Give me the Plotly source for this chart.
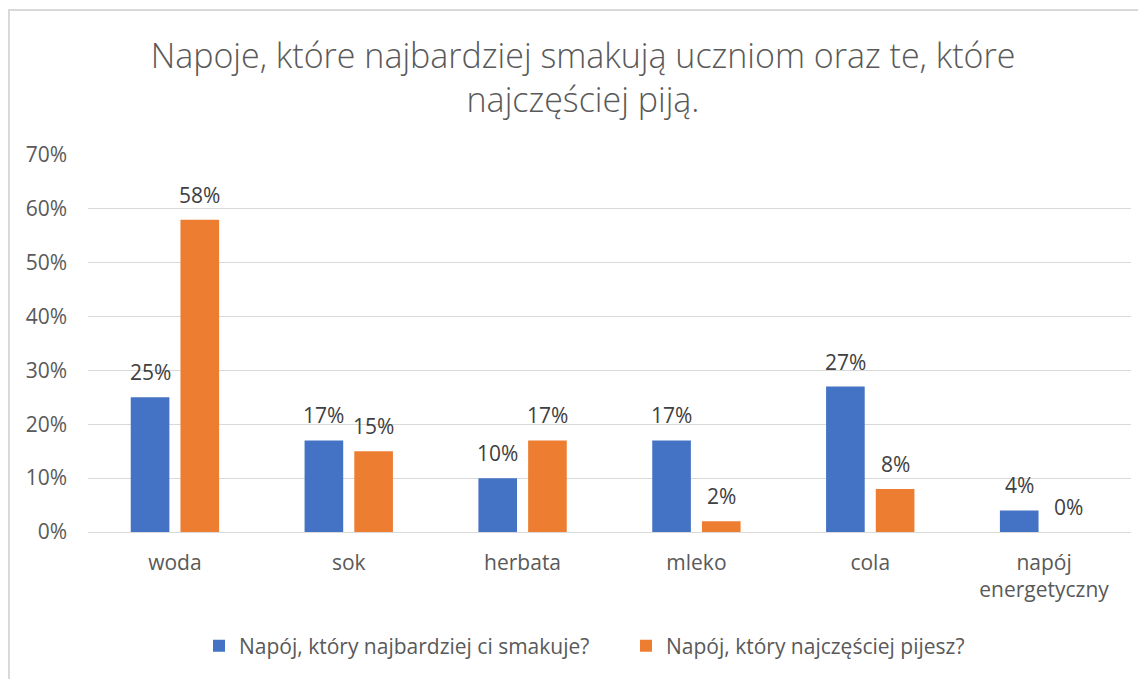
import plotly.graph_objects as go

categories = ["woda", "sok", "herbata", "mleko", "cola", "napój<br>energetyczny"]
series_names = ["Napój, który najbardziej ci smakuje?", "Napój, który najczęściej pijesz?"]
liked = [25, 17, 10, 17, 27, 4]
drunk = [58, 15, 17, 2, 8, 0]
y_ticks = [0, 10, 20, 30, 40, 50, 60, 70]
y_tick_labels = ["0%", "10%", "20%", "30%", "40%", "50%", "60%", "70%"]
title_text = "Napoje, które najbardziej smakują uczniom oraz te, które<br>najczęściej piją."

colors = ["#4472C4", "#ED7D31"]
FONT = "Open Sans"
FS = 21

# page is rendered with an 8px body margin; layout below is in figure pixels
W, H = 1146, 679
L, R, T, B = 80, 23, 147, 155
PW = W - L - R
PH = H - T - B
BARGAP, GROUPGAP = 0.428, 0.223
slot = PW / len(categories) * (1 - BARGAP) / 2

fig = go.Figure()
annotations = []
for i, (name, vals, col) in enumerate(zip(series_names, [liked, drunk], colors)):
    fig.add_trace(go.Bar(
        x=categories, y=vals, name=name,
        marker=dict(color=col, line=dict(width=0)),
        hoverinfo="x+y",
    ))
    for c, v in zip(categories, vals):
        annotations.append(dict(
            x=c, y=v, xref="x", yref="y",
            text=f"{v}%", showarrow=False,
            xanchor="center", yanchor="middle",
            xshift=(i - 0.5) * slot, yshift=25,
            font=dict(family=FONT, size=FS, color="#404040"),
        ))

fig.update_layout(
    width=W, height=H,
    margin=dict(l=L, r=R, t=T, b=B),
    paper_bgcolor="white", plot_bgcolor="white",
    barmode="group", bargap=BARGAP, bargroupgap=GROUPGAP,
    font=dict(family=FONT, color="#595959", size=FS),
    title=dict(
        text=title_text,
        font=dict(family=FONT, size=34, color="#595959", weight=300),
        x=575 / W, xanchor="center", xref="container",
        y=1 - 60 / H, yanchor="middle", yref="container",
    ),
    legend=dict(
        orientation="h", x=(191 - L) / PW, xanchor="left",
        y=(H - B - 638) / PH, yanchor="middle",
        font=dict(family=FONT, size=FS, color="#595959"),
        traceorder="normal",
        entrywidth=382, entrywidthmode="pixels",
    ),
    xaxis=dict(
        showgrid=False, showline=False, ticks="",
        tickfont=dict(family=FONT, size=FS, color="#595959"),
        ticklabelstandoff=16,
    ),
    yaxis=dict(
        range=[0, 70], tickvals=y_ticks, ticktext=y_tick_labels,
        showgrid=True, gridcolor="#D9D9D9", gridwidth=1,
        zeroline=True, zerolinecolor="#D9D9D9", zerolinewidth=1,
        showline=False, ticks="",
        tickfont=dict(family=FONT, size=FS, color="#595959"),
        ticklabelstandoff=20,
    ),
    annotations=annotations,
    shapes=[dict(
        type="rect", xref="paper", yref="paper",
        x0=(1 - L) / PW, x1=1.2,
        y0=-0.6, y1=(H - B - 2) / PH,
        line=dict(color="#D9D9D9", width=2), fillcolor="rgba(0,0,0,0)",
        layer="below",
    )],
)

fig.write_html("out.html")
